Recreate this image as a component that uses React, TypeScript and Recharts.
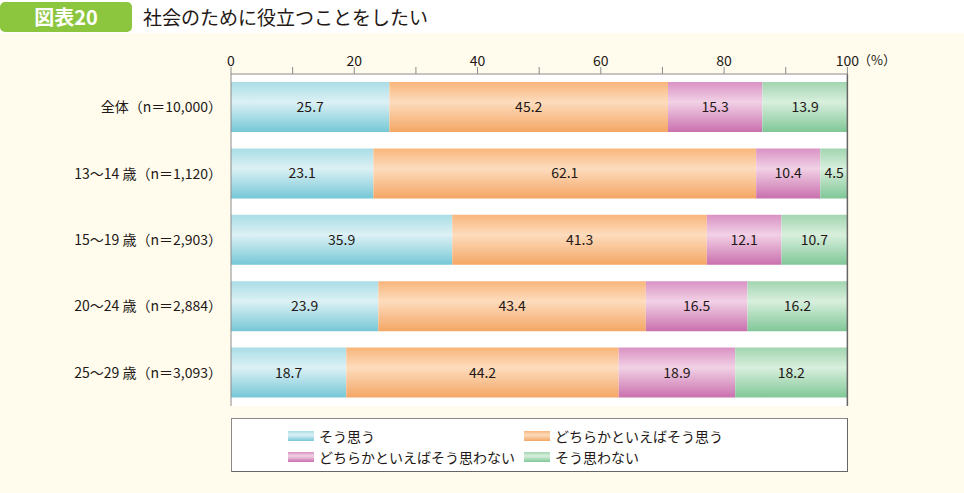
import React from 'react';
import {
  BarChart,
  Bar,
  XAxis,
  YAxis,
  CartesianGrid,
  LabelList,
  Legend,
  ReferenceLine,
} from 'recharts';

const categories = [
  '全体（n＝10,000）',
  '13〜14 歳（n＝1,120）',
  '15〜19 歳（n＝2,903）',
  '20〜24 歳（n＝2,884）',
  '25〜29 歳（n＝3,093）',
];
const agree = [25.7, 23.1, 35.9, 23.9, 18.7];
const ratherAgree = [45.2, 62.1, 41.3, 43.4, 44.2];
const ratherDisagree = [15.3, 10.4, 12.1, 16.5, 18.9];
const disagree = [13.9, 4.5, 10.7, 16.2, 18.2];
const xTicks = [0, 10, 20, 30, 40, 50, 60, 70, 80, 90, 100];

const series = [
  { key: 'agree', name: 'そう思う', values: agree, top: '#a9dde6', mid: '#dcf1f5', bot: '#76c7d6' },
  { key: 'ratherAgree', name: 'どちらかといえばそう思う', values: ratherAgree, top: '#f8b57b', mid: '#fddcbd', bot: '#f4a665' },
  { key: 'ratherDisagree', name: 'どちらかといえばそう思わない', values: ratherDisagree, top: '#d992c3', mid: '#f2d1e6', bot: '#c970ad' },
  { key: 'disagree', name: 'そう思わない', values: disagree, top: '#a2d5b0', mid: '#d8efdd', bot: '#80c797' },
];

const data = categories.map((name, i) => {
  const row: Record<string, string | number> = { name };
  series.forEach((s) => (row[s.key] = s.values[i]));
  return row;
});

const FONT = '"Noto Sans CJK JP", "Noto Sans", sans-serif';
const TEXT = '#231815';

const CategoryTick = (props: any) => {
  const { x, y, payload } = props;
  return (
    <text x={x} y={y} dy={5} textAnchor="end" fontSize={14} fill={TEXT} fontFamily={FONT}>
      {payload.value}
    </text>
  );
};

const LegendBox = () => (
  <div
    style={{
      width: 615,
      height: 52,
      border: '1px solid #8a8a8a',
      borderRightColor: '#666',
      borderBottomColor: '#666',
      background: '#fff',
      position: 'relative',
      fontFamily: FONT,
      fontSize: 14,
      color: TEXT,
    }}
  >
    {series.map((s, i) => {
      const col = i % 2;
      const row = Math.floor(i / 2);
      return (
        <div
          key={s.key}
          style={{
            position: 'absolute',
            left: col === 0 ? 56 : 292,
            top: row === 0 ? 7 : 28,
            display: 'flex',
            alignItems: 'center',
            whiteSpace: 'nowrap',
            lineHeight: '20px',
          }}
        >
          <span
            style={{
              display: 'inline-block',
              width: 26,
              height: 10,
              marginRight: 5,
              background: `linear-gradient(${s.top}, ${s.mid} 40%, ${s.bot})`,
            }}
          />
          {s.name}
        </div>
      );
    })}
  </div>
);

export default function App() {
  return (
    <div style={{ position: 'relative', width: 964, height: 493, background: '#fffcee', fontFamily: FONT }}>
      <style>{`body{margin:0}`}</style>
      <div style={{ position: 'absolute', left: 0, top: 0, width: 964, height: 33, background: '#ffffff' }} />
      <div
        style={{
          position: 'absolute',
          left: 0,
          top: 2,
          width: 132,
          height: 30,
          borderRadius: 5,
          background: '#8cc63f',
          color: '#fff',
          fontWeight: 700,
          fontSize: 20,
          lineHeight: '30px',
          textAlign: 'center',
        }}
      >
        図表20
      </div>
      <div style={{ position: 'absolute', left: 143, top: 2, fontSize: 19, lineHeight: '30px', color: TEXT }}>
        社会のために役立つことをしたい
      </div>
      <div style={{ position: 'absolute', left: 858, top: 50, fontSize: 13, lineHeight: '20px', color: TEXT }}>
        （%）
      </div>
      <div style={{ position: 'absolute', left: 0, top: 0 }}>
        <BarChart
          width={964}
          height={493}
          data={data}
          layout="vertical"
          margin={{ top: 0, right: 116, bottom: 33, left: 0 }}
          barSize={50}
        >
          <defs>
            {series.map((s) => (
              <linearGradient key={s.key} id={`g-${s.key}`} x1="0" y1="0" x2="0" y2="1">
                <stop offset="0%" stopColor={s.top} />
                <stop offset="40%" stopColor={s.mid} />
                <stop offset="100%" stopColor={s.bot} />
              </linearGradient>
            ))}
          </defs>
          <CartesianGrid horizontal={false} vertical={false} fill="#ffffff" stroke="none" />
          <XAxis
            type="number"
            orientation="top"
            domain={[0, 100]}
            ticks={xTicks}
            interval={0}
            height={74}
            tickSize={7}
            tickMargin={1}
            tickFormatter={(v: number) => (v % 20 === 0 ? String(v) : '')}
            tick={{ fontSize: 14, fill: TEXT, fontFamily: FONT }}
            axisLine={{ stroke: '#8a8a8a' }}
            tickLine={{ stroke: '#8a8a8a' }}
          />
          <XAxis
            xAxisId="bottom"
            type="number"
            orientation="bottom"
            domain={[0, 100]}
            height={0}
            tick={false}
            tickLine={false}
            axisLine={{ stroke: '#666', strokeWidth: 1.5 }}
          />
          <YAxis
            type="category"
            dataKey="name"
            width={231}
            tickSize={0}
            tickMargin={9}
            tickLine={false}
            axisLine={{ stroke: '#8a8a8a' }}
            tick={<CategoryTick />}
          />
          <ReferenceLine x={100} stroke="#666" strokeWidth={1.5} />
          {series.map((s) => (
            <Bar
              key={s.key}
              dataKey={s.key}
              name={s.name}
              stackId="a"
              fill={`url(#g-${s.key})`}
              isAnimationActive={false}
            >
              <LabelList
                dataKey={s.key}
                position="center"
                fill={TEXT}
                fontSize={14}
                fontFamily={FONT}
                formatter={(v: number) => v.toFixed(1)}
              />
            </Bar>
          ))}
          <Legend
            content={<LegendBox />}
            wrapperStyle={{ position: 'absolute', left: 231, top: 418, width: 617, height: 54, bottom: 'auto' }}
          />
        </BarChart>
      </div>
    </div>
  );
}
